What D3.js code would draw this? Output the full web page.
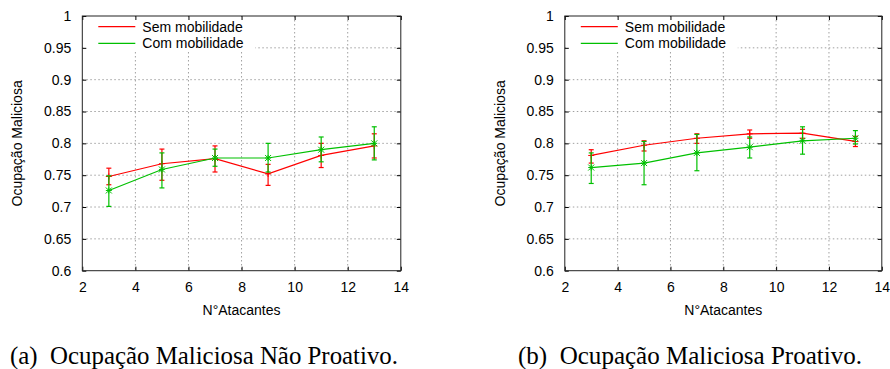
<!DOCTYPE html>
<html>
<head>
<meta charset="utf-8">
<script src="https://cdn.jsdelivr.net/npm/d3@7"></script>
<style>
  body { margin: 0; background: #fff; }
  svg { display: block; }
  .tick text { font-family: "Liberation Sans", Arial, sans-serif; font-size: 14px; fill: #000; }
  .tick line { stroke: #000; }
</style>
</head>
<body>
<svg id="svg" width="890" height="369"></svg>
<script>
// number of attackers (x axis)
const attackers = [3, 5, 7, 9, 11, 13];
const xTicks = [2, 4, 6, 8, 10, 12, 14];
const yTicks = [0.6, 0.65, 0.7, 0.75, 0.8, 0.85, 0.9, 0.95, 1];
const seriesNames = ['Sem mobilidade', 'Com mobilidade'];

// (a) nao proativo
const semA = [0.748, 0.768, 0.776, 0.752, 0.781, 0.796];
const semALow = [0.735, 0.742, 0.755, 0.734, 0.762, 0.777];
const semAHigh = [0.761, 0.791, 0.796, 0.767, 0.800, 0.815];
const comA = [0.726, 0.759, 0.777, 0.777, 0.790, 0.800];
const comALow = [0.701, 0.730, 0.764, 0.755, 0.771, 0.774];
const comAHigh = [0.749, 0.785, 0.791, 0.800, 0.810, 0.826];

// (b) proativo
const semB = [0.781, 0.797, 0.808, 0.815, 0.816, 0.803];
const semBLow = [0.769, 0.788, 0.800, 0.808, 0.808, 0.795];
const semBHigh = [0.790, 0.804, 0.815, 0.821, 0.822, 0.811];
const comB = [0.762, 0.769, 0.785, 0.794, 0.804, 0.808];
const comBLow = [0.737, 0.735, 0.757, 0.777, 0.783, 0.799];
const comBHigh = [0.785, 0.803, 0.814, 0.810, 0.826, 0.820];

const captions = ['(a)  Ocupação Maliciosa Não Proativo.', '(b)  Ocupação Maliciosa Proativo.'];

const colors = ['#ff0000', '#00c000'];
const sans = '"Liberation Sans", Arial, sans-serif';

const svg = d3.select('#svg');

function zip(v, lo, hi) {
    return attackers.map((x, i) => ({ x: x, y: v[i], lo: lo[i], hi: hi[i] }));
}

function drawPanel(left, width, series, caption, capX, capLen) {
    const top = 16, bottom = 270.7;
    const x = d3.scaleLinear().domain([2, 14]).range([left, left + width]);
    const y = d3.scaleLinear().domain([0.6, 1]).range([bottom, top]);
    const g = svg.append('g');

    // grid
    const grid = g.append('g').attr('stroke', '#a0a0a0').attr('stroke-dasharray', '1.5,2.5').attr('stroke-width', 1);
    grid.selectAll('.gx').data(xTicks.slice(1, -1)).enter().append('line')
        .attr('x1', d => x(d)).attr('x2', d => x(d)).attr('y1', top).attr('y2', bottom);
    grid.selectAll('.gy').data(yTicks.slice(1, -1)).enter().append('line')
        .attr('x1', left).attr('x2', left + width).attr('y1', d => y(d)).attr('y2', d => y(d));

    // legend background hides the grid
    g.append('rect').attr('x', left + 1).attr('y', top + 1).attr('width', 172).attr('height', 35).attr('fill', '#fff');

    // axes
    const ax = g.append('g');
    ax.append('g').attr('transform', `translate(0,${bottom})`)
        .call(d3.axisBottom(x).tickValues(xTicks).tickSize(-4).tickPadding(11).tickFormat(d3.format('d')));
    ax.append('g').attr('transform', `translate(${left},0)`)
        .call(d3.axisLeft(y).tickValues(yTicks).tickSize(-4).tickPadding(11).tickFormat(d => d3.format('')(+d.toFixed(2))));
    ax.append('g').attr('transform', `translate(0,${top})`)
        .call(d3.axisTop(x).tickValues(xTicks).tickSize(-4).tickFormat(''));
    ax.append('g').attr('transform', `translate(${left + width},0)`)
        .call(d3.axisRight(y).tickValues(yTicks).tickSize(-4).tickFormat(''));
    ax.selectAll('.domain').remove();
    ax.selectAll('.tick text').attr('font-family', sans);

    g.append('rect').attr('x', left).attr('y', top).attr('width', width).attr('height', bottom - top)
        .attr('fill', 'none').attr('stroke', '#222').attr('stroke-width', 1);

    // series
    const line = d3.line().x(d => x(d.x)).y(d => y(d.y));
    series.forEach((s, k) => {
        const c = colors[k];
        const sg = g.append('g').attr('stroke', c).attr('fill', 'none').attr('stroke-width', 1.2);
        sg.append('path').datum(s).attr('d', line);
        const eb = sg.selectAll('.eb').data(s).enter().append('g');
        eb.append('line').attr('x1', d => x(d.x)).attr('x2', d => x(d.x)).attr('y1', d => y(d.lo)).attr('y2', d => y(d.hi));
        eb.append('line').attr('x1', d => x(d.x) - 2.5).attr('x2', d => x(d.x) + 2.5).attr('y1', d => y(d.lo)).attr('y2', d => y(d.lo));
        eb.append('line').attr('x1', d => x(d.x) - 2.5).attr('x2', d => x(d.x) + 2.5).attr('y1', d => y(d.hi)).attr('y2', d => y(d.hi));
        // point marker: + for first series, * for second
        eb.append('path').attr('stroke-width', 1).attr('d', d => {
            const px = x(d.x), py = y(d.y), r = 3;
            let p = `M${px - r},${py}H${px + r}M${px},${py - r}V${py + r}`;
            if (k === 1) p += `M${px - r},${py - r}L${px + r},${py + r}M${px - r},${py + r}L${px + r},${py - r}`;
            return p;
        });

        // legend entry
        const ly = top + 10.7 + k * 16.6;
        g.append('line').attr('x1', left + 16).attr('x2', left + 53).attr('y1', ly).attr('y2', ly)
            .attr('stroke', c).attr('stroke-width', 1.2);
        g.append('text').attr('x', left + 60).attr('y', ly + 5).attr('font-family', sans).attr('font-size', 14)
            .text(seriesNames[k]);
    });

    // axis titles
    g.append('text').attr('x', left + width / 2).attr('y', 315).attr('text-anchor', 'middle')
        .attr('font-family', sans).attr('font-size', 14).text('N°Atacantes');
    g.append('text').attr('transform', `translate(${left - 60},${(top + bottom) / 2}) rotate(-90)`)
        .attr('text-anchor', 'middle').attr('font-family', sans).attr('font-size', 14).text('Ocupação Maliciosa');

    // caption
    g.append('text').attr('x', capX).attr('y', 364).attr('font-family', '"Liberation Serif", "Times New Roman", serif')
        .attr('font-size', 25).attr('textLength', capLen).attr('lengthAdjust', 'spacingAndGlyphs')
        .attr('xml:space', 'preserve').style('white-space', 'pre').text(caption);
}

drawPanel(82.3, 318.5, [zip(semA, semALow, semAHigh), zip(comA, comALow, comAHigh)], captions[0], 10, 388);
drawPanel(564.8, 317, [zip(semB, semBLow, semBHigh), zip(comB, comBLow, comBHigh)], captions[1], 518, 344);
</script>
</body>
</html>
